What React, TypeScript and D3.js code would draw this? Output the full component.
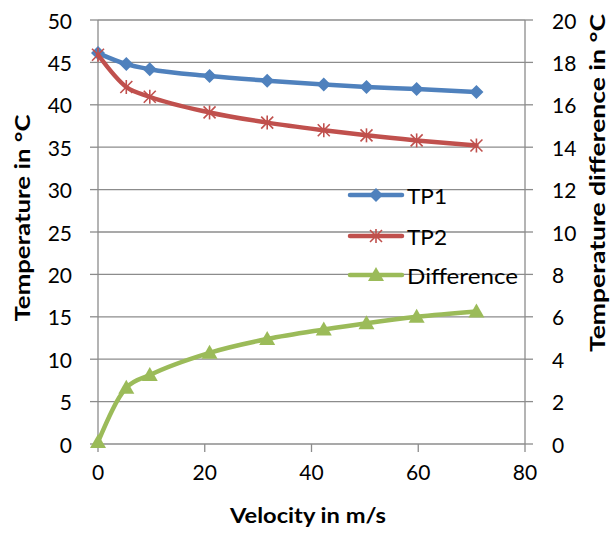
import React from "react";
import * as d3 from "d3";

const velocity = [0, 5.3, 9.7, 20.9, 31.7, 42.3, 50.3, 59.7, 70.9];
const tp1 = [46.1, 44.8, 44.2, 43.4, 42.85, 42.4, 42.1, 41.85, 41.5];
const tp2 = [45.9, 42.1, 40.95, 39.1, 37.9, 37.0, 36.4, 35.8, 35.2];
const difference = [0.1, 2.65, 3.25, 4.3, 4.95, 5.4, 5.7, 6.0, 6.25];
const xTicks = [0, 20, 40, 60, 80];
const leftTicks = [0, 5, 10, 15, 20, 25, 30, 35, 40, 45, 50];
const rightTicks = [0, 2, 4, 6, 8, 10, 12, 14, 16, 18, 20];
const seriesNames = ["TP1", "TP2", "Difference"];

const W = 616, H = 533;
const L = 98, R = 525, T = 20, B = 444;
const FONT = "Lato, 'Open Sans', sans-serif";
const colors = ["#4F81BD", "#C0504D", "#9BBB59"];
const grid = "#8c8c8c";
const TICK_FS = 21;

function Marker({ kind, x, y, color }: { kind: number; x: number; y: number; color: string }) {
  if (kind === 0) {
    const s = 7;
    return <path d={`M${x},${y - s}L${x + s},${y}L${x},${y + s}L${x - s},${y}Z`} fill={color} />;
  }
  if (kind === 1) {
    const s = 6;
    return (
      <g stroke={color} strokeWidth={1.6}>
        <line x1={x - s} y1={y - s} x2={x + s} y2={y + s} />
        <line x1={x - s} y1={y + s} x2={x + s} y2={y - s} />
        <line x1={x} y1={y - s - 1} x2={x} y2={y + s + 1} />
      </g>
    );
  }
  const s = 8;
  return <path d={`M${x},${y - s}L${x + s},${y + s * 0.75}L${x - s},${y + s * 0.75}Z`} fill={color} />;
}

export default function App() {
  const x = d3.scaleLinear().domain([0, 80]).range([L, R]);
  const yL = d3.scaleLinear().domain([0, 50]).range([B, T]);
  const yR = d3.scaleLinear().domain([0, 20]).range([B, T]);
  const line = d3.line<[number, number]>().x((d) => d[0]).y((d) => d[1]).curve(d3.curveMonotoneX);

  const series = [
    velocity.map((v, i) => [x(v), yL(tp1[i])] as [number, number]),
    velocity.map((v, i) => [x(v), yL(tp2[i])] as [number, number]),
    velocity.map((v, i) => [x(v), yR(difference[i])] as [number, number]),
  ];

  const legendY = [195, 236, 275];
  const legendLen = [40, 40, 111];

  return (
    <svg width={W} height={H} style={{ position: "absolute", left: 0, top: 0, background: "#fff" }} fontFamily={FONT}>
      {leftTicks.map((t) => (
        <line key={"g" + t} x1={L} x2={R} y1={yL(t)} y2={yL(t)} stroke={grid} strokeWidth={1.3} />
      ))}
      <line x1={L} x2={L} y1={T} y2={B} stroke={grid} strokeWidth={1.3} />
      <line x1={R} x2={R} y1={T} y2={B} stroke={grid} strokeWidth={1.3} />
      {leftTicks.map((t) => (
        <g key={"l" + t}>
          <line x1={L - 8} x2={L} y1={yL(t)} y2={yL(t)} stroke={grid} strokeWidth={1.3} />
          <text x={72} y={yL(t)} textAnchor="end" dominantBaseline="central" fontSize={TICK_FS} fill="#000">{t}</text>
        </g>
      ))}
      {rightTicks.map((t) => (
        <g key={"r" + t}>
          <line x1={R} x2={R + 8} y1={yR(t)} y2={yR(t)} stroke={grid} strokeWidth={1.3} />
          <text x={552} y={yR(t)} textAnchor="start" dominantBaseline="central" fontSize={TICK_FS} fill="#000">{t}</text>
        </g>
      ))}
      {xTicks.map((t) => (
        <g key={"x" + t}>
          <line x1={x(t)} x2={x(t)} y1={B} y2={B + 8} stroke={grid} strokeWidth={1.3} />
          <text x={x(t)} y={471} textAnchor="middle" dominantBaseline="central" fontSize={TICK_FS} fill="#000">{t}</text>
        </g>
      ))}
      <text x={308} y={523} textAnchor="middle" fontSize={21} fontWeight="bold" fill="#000"
        textLength={156} lengthAdjust="spacingAndGlyphs">Velocity in m/s</text>
      <text transform="translate(30,218) rotate(-90)" textAnchor="middle" fontSize={21} fontWeight="bold" fill="#000"
        textLength={207} lengthAdjust="spacingAndGlyphs">Temperature in °C</text>
      <text transform="translate(605,183) rotate(-90)" textAnchor="middle" fontSize={21} fontWeight="bold" fill="#000"
        textLength={338} lengthAdjust="spacingAndGlyphs">Temperature difference in °C</text>

      {series.map((pts, k) => (
        <g key={"s" + k}>
          <path d={line(pts) || ""} fill="none" stroke={colors[k]} strokeWidth={4.5} strokeLinejoin="round" strokeLinecap="round" />
          {pts.map((p, i) => (
            <Marker key={i} kind={k} x={p[0]} y={p[1]} color={colors[k]} />
          ))}
        </g>
      ))}

      {seriesNames.map((n, k) => (
        <g key={"leg" + k}>
          <line x1={350} x2={402} y1={legendY[k]} y2={legendY[k]} stroke={colors[k]} strokeWidth={4.5} strokeLinecap="round" />
          <Marker kind={k} x={376} y={legendY[k]} color={colors[k]} />
          <text x={407} y={legendY[k]} dominantBaseline="central" fontSize={TICK_FS} fill="#000"
            textLength={legendLen[k]} lengthAdjust="spacingAndGlyphs">{n}</text>
        </g>
      ))}
    </svg>
  );
}
